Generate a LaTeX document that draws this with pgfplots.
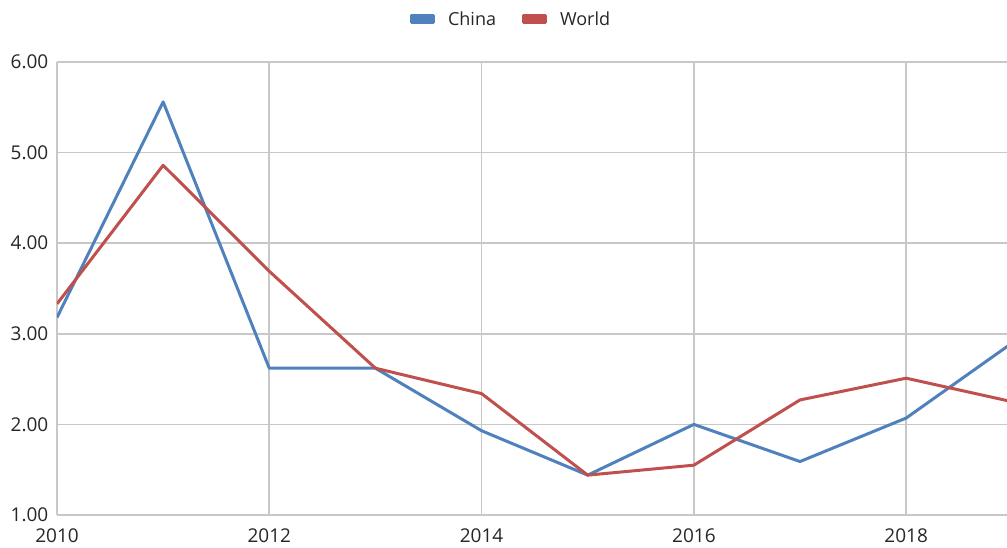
\documentclass[border=0pt]{standalone}
\usepackage{fontspec}
\setmainfont{Open Sans}
\usepackage{pgfplots}
\pgfplotsset{compat=1.18}
\definecolor{chinablue}{HTML}{4F81BD}
\definecolor{worldred}{HTML}{C0504D}
\definecolor{gridgray}{HTML}{C8C8C8}
\definecolor{labelgray}{HTML}{262626}
\begin{document}
\begin{tikzpicture}[x=1pt,y=1pt]
\useasboundingbox (0,0) rectangle (1007,548);
\begin{axis}[
  at={(57pt,33pt)}, anchor=south west,
  scale only axis, width=950pt, height=453pt,
  xmin=2010, xmax=2018.95, ymin=1, ymax=6,
  xtick={2010,2012,2014,2016,2018},
  ytick={1,2,3,4,5,6},
  axis x line=bottom, axis y line=left,
  axis line style={gridgray, line width=1.6pt, -},
  grid=major, major grid style={gridgray, line width=1.6pt},
  tick style={draw=none},
  clip=true,
  /pgf/number format/assume math mode=true,
  tick label style={font=\fontsize{19}{21}\selectfont, text=labelgray},
  xticklabel style={/pgf/number format/1000 sep={}, yshift=-8pt},
  yticklabel style={/pgf/number format/fixed, /pgf/number format/fixed zerofill, /pgf/number format/precision=2, xshift=-3pt},
  legend style={at={(0.478,1.095)}, anchor=center, draw=none, fill=none,
    font=\fontsize{18}{20}\selectfont, text=labelgray,
    column sep=0pt},
  legend columns=2,
  legend image code/.code={\fill[#1] (0pt,-3.2pt) rectangle (22pt,3.2pt);},
]
\addplot[chinablue, line width=3pt, line join=round] coordinates {
  (2010,3.18) (2011,5.56) (2012,2.62) (2013,2.62) (2014,1.93)
  (2015,1.44) (2016,2.00) (2017,1.59) (2018,2.07) (2019,2.90)
};
\addlegendentry{\hspace{11pt}China\hbox to 24pt{}}
\addplot[worldred, line width=3pt, line join=round] coordinates {
  (2010,3.33) (2011,4.86) (2012,3.69) (2013,2.62) (2014,2.34)
  (2015,1.44) (2016,1.55) (2017,2.27) (2018,2.51) (2019,2.25)
};
\addlegendentry{\hspace{11pt}World}
\end{axis}
\end{tikzpicture}
\end{document}
